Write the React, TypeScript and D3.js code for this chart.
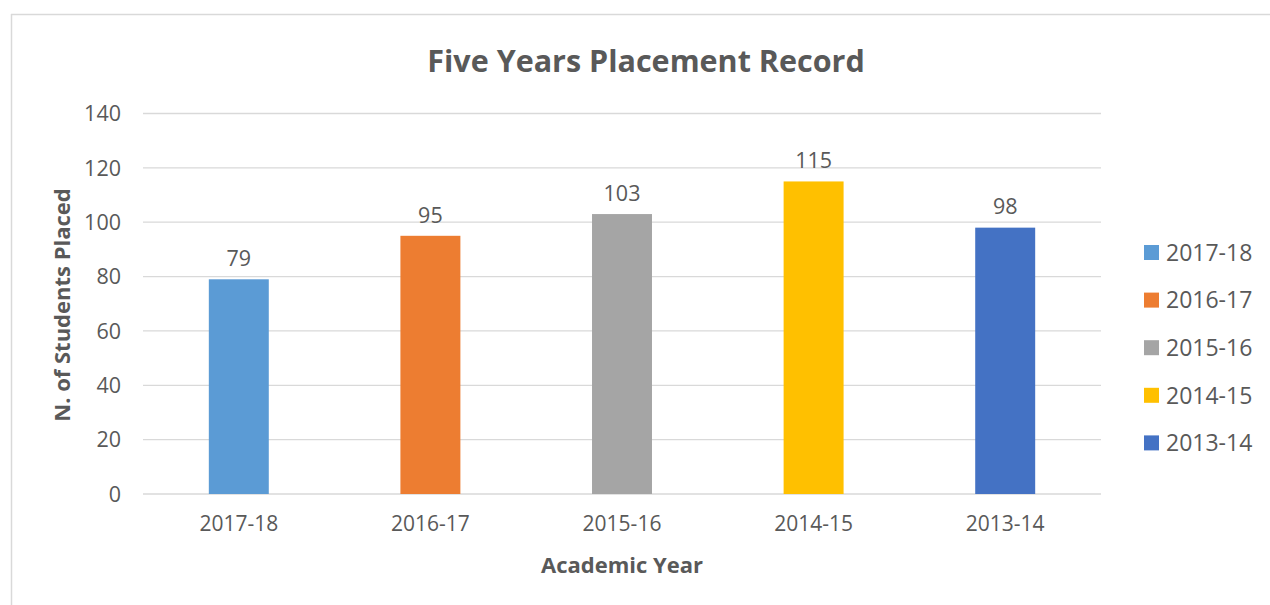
import React from "react";
import * as d3 from "d3";

const categories = ["2017-18", "2016-17", "2015-16", "2014-15", "2013-14"];
const values = [79, 95, 103, 115, 98];
const colors = ["#5B9BD5", "#ED7D31", "#A5A5A5", "#FFC000", "#4472C4"];
const yTicks = [0, 20, 40, 60, 80, 100, 120, 140];

const W = 1270;
const H = 605;
const FONT = "'Open Sans', sans-serif";
const TXT = "#595959";

export default function App() {
  const x = d3.scaleBand<string>().domain(categories).range([143, 1101]).padding(0);
  const y = d3.scaleLinear().domain([0, 140]).range([494, 113.5]);
  const barW = x.bandwidth() * 0.313;

  return (
    <svg
      width={W}
      height={H}
      style={{ position: "absolute", left: 0, top: 0, background: "#fff" }}
      fontFamily={FONT}
    >
      <rect x={0} y={0} width={W} height={H} fill="#fff" />
      {/* chart border */}
      <line x1={11} y1={14.5} x2={W} y2={14.5} stroke="#d9d9d9" strokeWidth={1.5} />
      <line x1={11.5} y1={14} x2={11.5} y2={H} stroke="#d9d9d9" strokeWidth={1.5} />

      <text x={646} y={72} textAnchor="middle" fontSize={30.5} fontWeight="bold" fill={TXT}>
        Five Years Placement Record
      </text>

      {/* gridlines */}
      {yTicks.map((t) => (
        <line key={t} x1={143} x2={1101} y1={y(t)} y2={y(t)} stroke="#d9d9d9" strokeWidth={1.3} />
      ))}
      {yTicks.map((t) => (
        <text key={"l" + t} x={121} y={y(t)} dy="0.36em" textAnchor="end" fontSize={21.5} fill={TXT}>
          {t}
        </text>
      ))}

      {/* bars */}
      {categories.map((c, i) => {
        const cx = (x(c) as number) + x.bandwidth() / 2;
        return (
          <g key={c}>
            <rect x={cx - barW / 2} y={y(values[i])} width={barW} height={y(0) - y(values[i])} fill={colors[i]} />
            <text x={cx} y={y(values[i]) - 21} dy="0.36em" textAnchor="middle" fontSize={21.5} fill={TXT}>
              {values[i]}
            </text>
            <text x={cx} y={523} dy="0.36em" textAnchor="middle" fontSize={21} fill={TXT}>
              {c}
            </text>
          </g>
        );
      })}

      {/* axis titles */}
      <text x={622} y={565} dy="0.36em" textAnchor="middle" fontSize={22} fontWeight="bold" fill={TXT}>
        Academic Year
      </text>
      <text
        transform={`translate(62,305) rotate(-90)`}
        dy="0.36em"
        textAnchor="middle"
        fontSize={22}
        fontWeight="bold"
        fill={TXT}
      >
        N. of Students Placed
      </text>

      {/* legend */}
      {categories.map((c, i) => {
        const ly = 252.5 + i * 47.6;
        return (
          <g key={"lg" + c}>
            <rect x={1144} y={ly - 7.5} width={15} height={15} fill={colors[i]} />
            <text x={1166} y={ly} dy="0.36em" fontSize={23} fill={TXT}>
              {c}
            </text>
          </g>
        );
      })}
    </svg>
  );
}
